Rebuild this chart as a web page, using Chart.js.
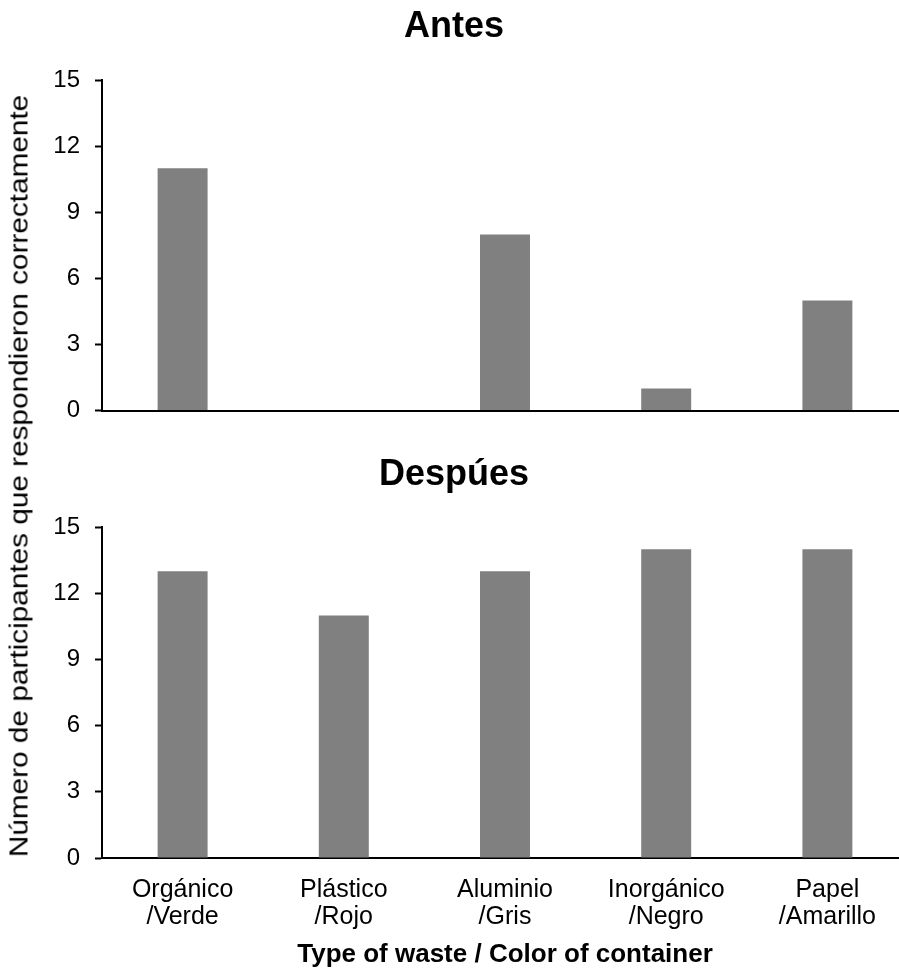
<!DOCTYPE html>
<html>
<head>
<meta charset="utf-8">
<script src="https://cdn.jsdelivr.net/npm/chart.js@4.4.0/dist/chart.umd.min.js"></script>
<style>
body { margin:0; background:#fff; overflow:hidden; width:899px; height:974px; position:relative; font-family:"Liberation Sans", Arial, sans-serif; }
#top { position:absolute; left:0; top:0; }
#bottom { position:absolute; left:0; top:440px; }
#ytitle { position:absolute; left:19px; top:476px; transform:translate(-50%,-50%) rotate(-90deg) scaleX(1.19); white-space:nowrap; font-size:25px; color:#000; }
</style>
</head>
<body>
<canvas id="top" width="910" height="440"></canvas>
<canvas id="bottom" width="910" height="534"></canvas>
<div id="ytitle">Número de participantes que respondieron correctamente</div>
<script>
const categories = [['Orgánico','/Verde'],['Plástico','/Rojo'],['Aluminio','/Gris'],['Inorgánico','/Negro'],['Papel','/Amarillo']]
const antes = [11, 0, 8, 1, 5]
const despues = [13, 11, 13, 14, 14]
const yTicks = [0, 3, 6, 9, 12, 15]
const FONT = '"Liberation Sans", Arial, sans-serif'

// one panel, both share the same look
function makeChart(id, title, values, showLabels, titlePad, xHeight){
    const ctx = document.getElementById(id).getContext('2d')
    return new Chart(ctx, {
        type: 'bar',
        data: {
            labels: categories,
            datasets: [{
                data: values,
                backgroundColor: '#808080',
                borderWidth: 0,
                categoryPercentage: 1,
                barPercentage: 0.31
            }]
        },
        options: {
            responsive: false,
            animation: false,
            layout: { padding: { left: 0, right: 2, top: 0, bottom: 0 } },
            plugins: {
                legend: { display: false },
                tooltip: { enabled: false },
                title: {
                    display: true,
                    text: title,
                    color: '#000',
                    font: { family: FONT, size: 36, weight: 'bold', lineHeight: 1.2 },
                    padding: titlePad
                }
            },
            scales: {
                x: {
                    grid: { display: false, drawTicks: false },
                    border: { display: true, color: '#000', width: 2 },
                    ticks: {
                        display: showLabels,
                        color: '#000',
                        padding: 19,
                        maxRotation: 0,
                        font: { family: FONT, size: 25, lineHeight: '27px' }
                    },
                    title: {
                        display: showLabels,
                        text: 'Type of waste / Color of container',
                        color: '#000',
                        font: { family: FONT, size: 26, weight: 'bold', lineHeight: 1.2 },
                        padding: { top: 0, bottom: 4 }
                    },
                    afterFit: function(scale){ scale.height = xHeight }
                },
                y: {
                    min: 0,
                    max: 15,
                    grid: { display: true, drawOnChartArea: false, drawTicks: true, tickLength: 7, tickColor: '#000', tickWidth: 2 },
                    border: { display: true, color: '#000', width: 2 },
                    ticks: {
                        color: '#000',
                        padding: 15,
                        font: { family: FONT, size: 24 }
                    },
                    afterBuildTicks: function(scale){
                        scale.ticks = yTicks.map(v => ({ value: v }))
                    },
                    afterFit: function(scale){ scale.width = 102 }
                }
            }
        }
    })
}

makeChart('top', 'Antes', antes, false, { top: 5, bottom: 32 }, 29)
makeChart('bottom', 'Despúes', despues, true, { top: 13, bottom: 31 }, 116)
</script>
</body>
</html>
